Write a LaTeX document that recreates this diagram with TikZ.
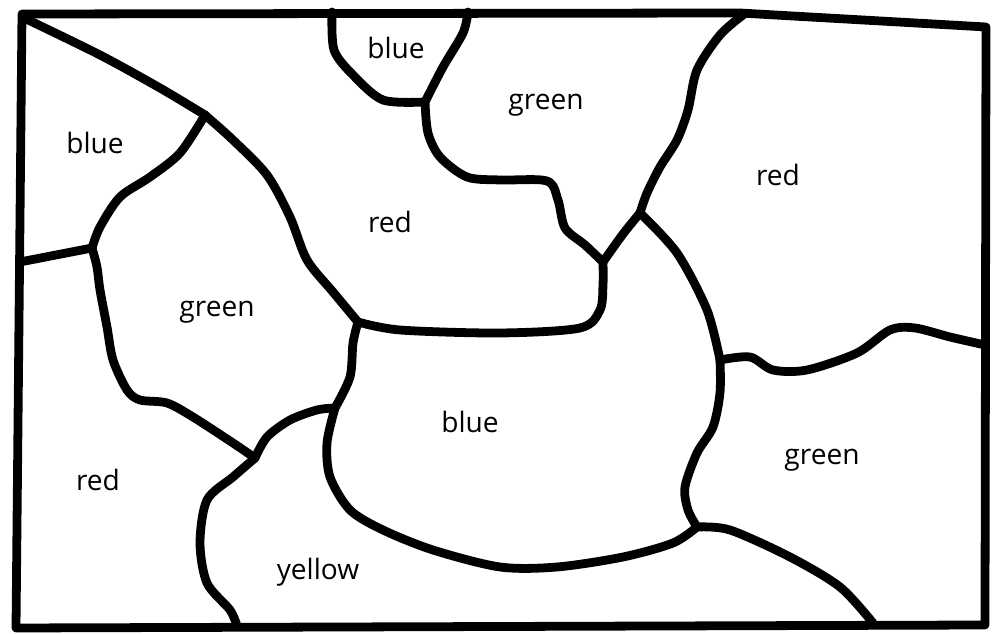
\documentclass[tikz,border=0pt]{standalone}
\usepackage{fontspec}
\setmainfont{Open Sans}

\begin{document}
\begin{tikzpicture}[x=0.02cm,y=-0.02cm,
    border/.style={line width=5pt,line cap=round,line join=round},
    region/.style={font=\fontsize{16}{16}\selectfont}]
  \useasboundingbox (0,0) rectangle (992,634);
  % junctions
  \coordinate (A) at (205,115);
  \coordinate (B) at (358,322);
  \coordinate (C) at (603,262);
  \coordinate (D) at (425,102);
  \coordinate (E) at (640,213);
  \coordinate (F) at (720,360);
  \coordinate (G) at (697,527);
  \coordinate (H) at (335,408);
  \coordinate (I) at (255,458);
  \coordinate (J) at (92,248);
  % frame
  \draw[border] (22,14) -- (740,13) -- (986,27) -- (985,625) -- (16,628) -- cycle;
  % borders
  \draw[border] plot[smooth] coordinates {(24,18) (100,55) (160,88) (A)};
  \draw[border] plot[smooth] coordinates {(A) (233,140) (267,175) (290,217) (307,260) (333,292) (B)};
  \draw[border] plot[smooth] coordinates {(B) (400,330) (500,333) (580,328) (600,310) (603,285) (C)};
  \draw[border] plot[smooth] coordinates {(C) (623,234) (E)};
  \draw[border] plot[smooth] coordinates {(E) (647,193) (660,167) (677,140) (688,110) (697,70) (720,35) (743,15)};
  \draw[border] plot[smooth] coordinates {(332,12) (334,50) (353,75) (383,100) (D)};
  \draw[border] plot[smooth] coordinates {(D) (443,67) (463,33) (468,12)};
  \draw[border] plot[smooth] coordinates {(D) (428,133) (440,157) (467,177) (500,180) (547,181) (558,200) (565,228) (585,245) (C)};
  \draw[border] plot[smooth] coordinates {(E) (677,253) (707,310) (F)};
  \draw[border] plot[smooth] coordinates {(F) (720,393) (713,427) (697,453) (685,487) (688,510) (G)};
  \draw[border] plot[smooth] coordinates {(F) (750,357) (773,370) (807,370) (857,353) (890,330) (915,328) (950,337) (985,345)};
  \draw[border] plot[smooth] coordinates {(G) (673,543) (623,557) (557,567) (500,567) (433,550) (383,530) (350,510) (330,477) (327,443) (H)};
  \draw[border] plot[smooth] coordinates {(B) (353,343) (350,377) (H)};
  \draw[border] plot[smooth] coordinates {(G) (730,530) (790,557) (840,587) (873,623)};
  \draw[border] plot[smooth] coordinates {(H) (317,410) (290,420) (267,437) (I)};
  \draw[border] plot[smooth] coordinates {(I) (233,443) (193,417) (167,403) (140,400) (127,390) (113,360) (107,327) (100,290) (97,267) (J)};
  \draw[border] plot[smooth] coordinates {(I) (233,477) (207,500) (200,543) (207,583) (230,610) (237,626)};
  \draw[border] (J) -- (20,262);
  \draw[border] plot[smooth] coordinates {(J) (100,227) (120,197) (150,177) (180,153) (A)};
  % colours
  \node[region] (topblue) at (396,48) {blue};
  \node[region] (topgreen) at (546,105) {green};
  \node[region] (topred) at (778,175) {red};
  \node[region] (leftblue) at (95,143) {blue};
  \node[region] (midred) at (390,222) {red};
  \node[region] (leftgreen) at (217,312) {green};
  \node[region] (midblue) at (470,422) {blue};
  \node[region] (rightgreen) at (822,460) {green};
  \node[region] (lowred) at (98,480) {red};
  \node[region] (lowyellow) at (318,572) {yellow};
\end{tikzpicture}
\end{document}
